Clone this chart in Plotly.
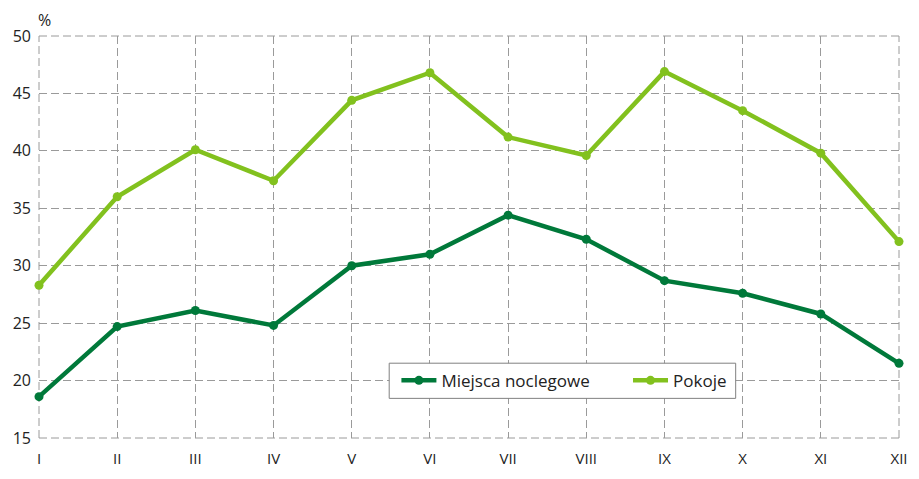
import plotly.graph_objects as go

months = ["I", "II", "III", "IV", "V", "VI", "VII", "VIII", "IX", "X", "XI", "XII"]
miejsca = [18.6, 24.7, 26.1, 24.8, 30.0, 31.0, 34.4, 32.3, 28.7, 27.6, 25.8, 21.5]
pokoje = [28.3, 36.0, 40.1, 37.4, 44.4, 46.8, 41.2, 39.6, 46.9, 43.5, 39.8, 32.1]
y_ticks = [15, 20, 25, 30, 35, 40, 45, 50]

x = list(range(len(months)))

DARK = "#00793A"
LIGHT = "#82C11E"
GRID = "#9a9a9a"
DASH = "8px,4px"

fig = go.Figure()
fig.add_trace(go.Scatter(x=x, y=miejsca, name="Miejsca noclegowe", mode="lines+markers",
                         line=dict(color=DARK, width=4.5), marker=dict(size=9, color=DARK),
                         cliponaxis=False, legend="legend"))
fig.add_trace(go.Scatter(x=x, y=pokoje, name="Pokoje", mode="lines+markers",
                         line=dict(color=LIGHT, width=4.5), marker=dict(size=9, color=LIGHT),
                         cliponaxis=False, legend="legend2"))

grid = dict(showgrid=True, gridcolor=GRID, griddash=DASH, gridwidth=1)
leg_common = dict(orientation="h", yanchor="middle", xanchor="left", y=0.1423,
                  bgcolor="rgba(0,0,0,0)", borderwidth=0, itemwidth=35,
                  font=dict(size=17, color="#222"))
fig.update_layout(
    width=919, height=479,
    margin=dict(l=39, r=11, t=36, b=27),
    paper_bgcolor="white", plot_bgcolor="white",
    font=dict(family="Open Sans, Noto Sans, sans-serif", size=15, color="#222"),
    xaxis=dict(range=[0, 11], tickvals=x, ticktext=months, zeroline=False, showline=False,
               ticks="", tickfont=dict(size=15), ticklabelstandoff=10, **grid),
    yaxis=dict(range=[15, 50], tickvals=y_ticks, zeroline=False, showline=False,
               ticks="", tickfont=dict(size=16), ticklabelstandoff=7, **grid),
    legend=dict(x=0.4156, **leg_common),
    legend2=dict(x=0.6849, **leg_common),
    showlegend=True,
)
# dashed gridlines along the plot-area edges (Plotly drops gridlines lying on the edges)
edge = dict(type="line", xref="paper", yref="paper", layer="below",
            line=dict(color=GRID, width=1, dash=DASH))
fig.add_shape(x0=0, x1=0, y0=0, y1=1, **edge)
fig.add_shape(x0=1, x1=1, y0=0, y1=1, **edge)
fig.add_shape(x0=0, x1=1, y0=0, y1=0, **edge)
fig.add_shape(x0=0, x1=1, y0=1, y1=1, **edge)
fig.add_shape(type="rect", xref="paper", yref="paper", x0=0.4072, x1=0.8101, y0=0.0986, y1=0.1861,
              line=dict(color="#808080", width=1), fillcolor="white", layer="above")
fig.add_annotation(text="%", xref="paper", yref="paper", x=-0.003, y=1.041, xanchor="left", yanchor="middle",
                   showarrow=False, font=dict(size=16))
fig.write_html("out.html", config={"displayModeBar": False},
               post_script="document.body.style.margin='0';document.body.style.overflow='hidden';")
